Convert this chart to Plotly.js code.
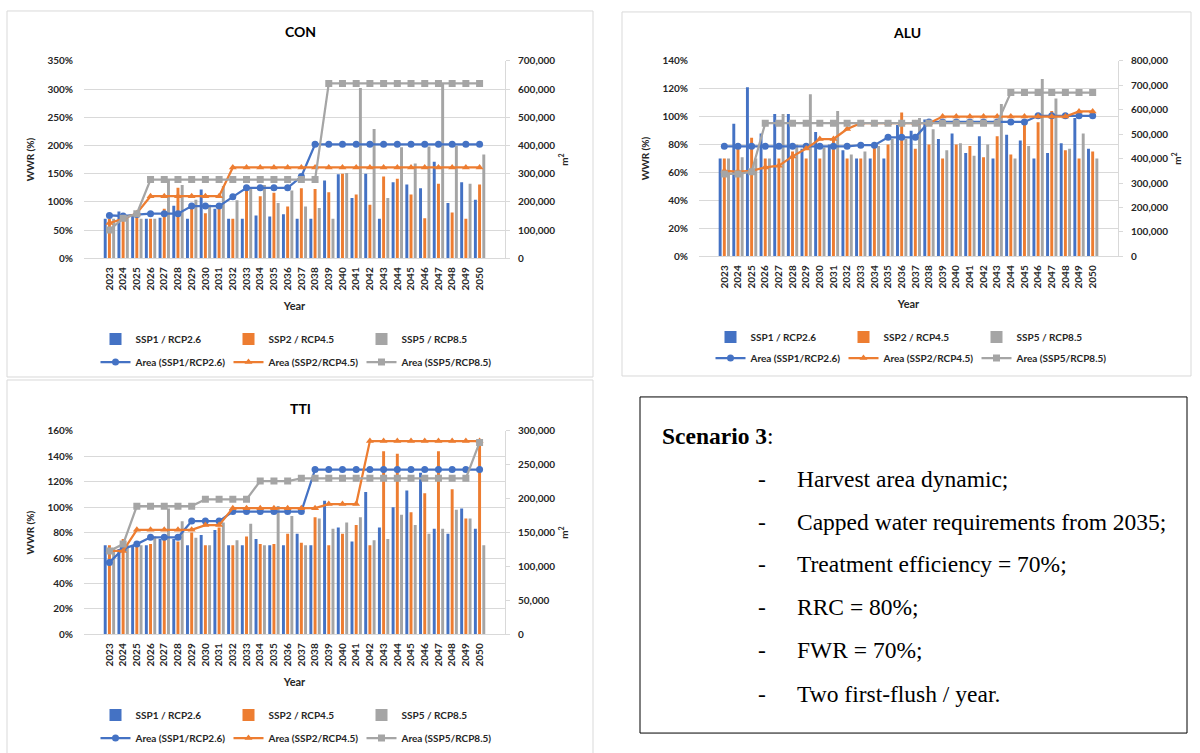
<!DOCTYPE html>
<html><head><meta charset="utf-8">
<script src="https://cdn.plot.ly/plotly-3.0.1.min.js"></script>
<style>html,body{margin:0;padding:0;background:#fff;}#chart{width:1200px;height:753px;}</style>
</head><body><div id="chart"></div>
<script>
const years = ['2023','2024','2025','2026','2027','2028','2029','2030','2031','2032','2033','2034','2035','2036','2037','2038','2039','2040','2041','2042','2043','2044','2045','2046','2047','2048','2049','2050'];
const barNames = ['SSP1 / RCP2.6','SSP2 / RCP4.5','SSP5 / RCP8.5'];
const lineNames = ['Area (SSP1/RCP2.6)','Area (SSP2/RCP4.5)','Area (SSP5/RCP8.5)'];

// CON — WWR (%) bars
const conSSP1 = [70,83,75,70,72,93,70,122,88,70,70,76,74,78,70,70,138,149,107,150,70,135,131,124,171,98,135,104];
const conSSP2 = [70,70,83,70,88,125,88,80,90,70,125,110,116,92,124,123,117,150,113,95,145,141,113,71,132,81,70,131];
const conSSP5 = [70,75,70,70,140,130,104,95,128,103,125,130,98,120,92,89,70,151,302,229,107,197,168,198,310,199,132,184];
// CON — area (m2)
const conArea1 = [152000,150000,155000,158000,158000,158000,185000,185000,185000,218000,250000,250000,250000,250000,290000,404000,404000,404000,404000,404000,404000,404000,404000,404000,404000,404000,404000,404000];
const conArea2 = [125000,140000,160000,220000,220000,220000,220000,220000,220000,322000,322000,322000,322000,322000,322000,322000,322000,322000,322000,322000,322000,322000,322000,322000,322000,322000,322000,322000];
const conArea5 = [100000,142000,158000,279000,279000,279000,279000,279000,279000,279000,279000,279000,279000,279000,279000,279000,620000,620000,620000,620000,620000,620000,620000,620000,620000,620000,620000,620000];

// ALU — WWR (%) bars
const aluSSP1 = [70,95,121,88,102,102,77,89,80,76,70,70,70,94,90,98,84,88,74,86,70,87,83,70,74,81,99,77];
const aluSSP2 = [70,78,85,70,70,75,70,70,84,70,70,80,80,103,77,80,70,80,79,71,86,73,96,96,104,76,70,75];
const aluSSP5 = [70,71,70,70,102,80,116,78,104,73,75,79,84,84,99,91,76,81,72,80,109,70,79,127,113,77,88,70];
// ALU — area (m2)
const aluArea1 = [450000,450000,450000,450000,450000,450000,450000,450000,450000,450000,455000,455000,487000,487000,487000,550000,550000,550000,550000,550000,550000,550000,550000,575000,575000,575000,575000,575000];
const aluArea2 = [350000,347000,350000,364000,371000,409000,441000,480000,480000,521000,545000,545000,545000,545000,545000,545000,572000,572000,572000,572000,572000,572000,572000,572000,572000,572000,593000,593000];
const aluArea5 = [337000,337000,346000,545000,545000,545000,545000,545000,545000,545000,545000,545000,545000,545000,545000,545000,545000,545000,545000,545000,545000,670000,670000,670000,670000,670000,670000,670000];

// TTI — WWR (%) bars
const ttiSSP1 = [70,67,70,70,75,75,70,78,82,70,70,75,70,70,79,70,105,84,73,112,84,100,113,127,83,79,99,83];
const ttiSSP2 = [70,75,70,71,75,73,80,70,84,70,77,71,71,79,72,92,70,79,86,70,144,142,96,111,144,114,91,152];
const ttiSSP5 = [68,70,70,77,99,89,76,70,88,74,87,70,101,93,70,91,83,88,92,74,75,94,86,79,83,98,91,70];
// TTI — area (m2)
const ttiArea1 = [106000,126000,133000,143000,143000,143000,167000,167000,167000,181000,181000,181000,181000,181000,181000,243000,243000,243000,243000,243000,243000,243000,243000,243000,243000,243000,243000,243000];
const ttiArea2 = [123000,123000,154000,154000,154000,154000,154000,161000,161000,186000,186000,186000,186000,186000,186000,186000,192000,192000,192000,285000,285000,285000,285000,285000,285000,285000,285000,285000];
const ttiArea5 = [123000,133000,189000,189000,189000,189000,189000,199000,199000,199000,199000,226000,226000,226000,230000,230000,230000,230000,230000,230000,230000,230000,230000,230000,230000,230000,230000,283000];

const colors = ['#4472C4','#ED7D31','#A5A5A5'];
const symbols = ['circle','triangle-up','square'];
const FONT = 'Lato, "Open Sans", sans-serif';
const TXT = '#262626';
const W = 1200, H = 753;
const fx = p => p / W, fy = p => 1 - p / H;

const traces = [];
function addChart(xa, ya, ya2, bars, areas, legB, legL) {
  bars.forEach((v, i) => traces.push({
    type: 'bar', x: years, y: v, name: barNames[i], xaxis: xa, yaxis: ya,
    marker: {color: colors[i]}, legend: legB, hoverinfo: 'x+y'
  }));
  areas.forEach((v, i) => traces.push({
    type: 'scatter', mode: 'lines+markers', x: years, y: v, name: lineNames[i],
    xaxis: xa, yaxis: ya2, line: {color: colors[i], width: 2.25},
    marker: {color: colors[i], symbol: symbols[i], size: 7}, legend: legL
  }));
}
addChart('x', 'y', 'y2', [conSSP1, conSSP2, conSSP5], [conArea1, conArea2, conArea5], 'legend', 'legend2');
addChart('x2', 'y3', 'y4', [aluSSP1, aluSSP2, aluSSP5], [aluArea1, aluArea2, aluArea5], 'legend3', 'legend4');
addChart('x3', 'y5', 'y6', [ttiSSP1, ttiSSP2, ttiSSP5], [ttiArea1, ttiArea2, ttiArea5], 'legend5', 'legend6');

const tickF = {family: FONT, size: 10, color: TXT, weight: 'bold'};
function xAx(x0, x1, yname) {
  return {domain: [fx(x0), fx(x1)], anchor: yname, type: 'category', tickangle: -90,
    tickfont: tickF, showline: true, linecolor: '#d9d9d9', linewidth: 1, ticks: '',
    showgrid: false, ticklabelstandoff: 4,
    title: {text: '<b>Year</b>', font: {family: FONT, size: 11, color: TXT}, standoff: 12}};
}
function yAx(y0, y1, xname, max, dt) {
  return {domain: [fy(y1), fy(y0)], anchor: xname, range: [0, max], dtick: dt, ticksuffix: '%',
    tickfont: tickF, showgrid: true, gridcolor: '#d9d9d9', zeroline: false, showline: false,
    ticks: '', ticklabelstandoff: 10, fixedrange: true,
    title: {text: '<b>WWR (%)</b>', font: {family: FONT, size: 10, color: TXT}, standoff: 10}};
}
function y2Ax(over, xname, max, dt) {
  return {overlaying: over, anchor: xname, side: 'right', range: [0, max], dtick: dt,
    tickformat: ',d', tickfont: tickF, showgrid: false, zeroline: false, showline: true,
    linecolor: '#d9d9d9', ticks: 'outside', ticklen: 4, tickcolor: '#d9d9d9', ticklabelstandoff: 6,
    title: {text: '<b>m<sup>2</sup></b>', font: {family: FONT, size: 10, color: TXT}, standoff: 6}};
}
function leg(xc, yc) {
  return {orientation: 'h', x: fx(xc), xanchor: 'center', y: fy(yc), yanchor: 'middle',
    font: {family: FONT, size: 10, color: TXT, weight: 'bold'}, bgcolor: 'rgba(0,0,0,0)',
    entrywidth: 88, entrywidthmode: 'pixels', traceorder: 'normal', itemclick: false};
}

const serif = '"Liberation Serif", "DejaVu Serif", serif';
const boxLines = ['Harvest area dynamic;', 'Capped water requirements from 2035;', 'Treatment efficiency = 70%;', 'RRC = 80%;', 'FWR = 70%;', 'Two first-flush / year.'];
const boxY = [480, 523, 566, 609, 652, 696];
const BOXF = 23.5;

function ann(text, x, y, xa, font) {
  return {text: text, x: fx(x), y: fy(y), xref: 'paper', yref: 'paper', xanchor: xa, yanchor: 'middle', showarrow: false, font: font};
}
const titleF = {family: FONT, size: 14, color: '#000'};
const annotations = [
  ann('<b>CON</b>', 300, 32, 'center', titleF),
  ann('<b>ALU</b>', 907, 33, 'center', titleF),
  ann('<b>TTI</b>', 300, 410, 'center', titleF),
  ann('<b>Scenario 3</b>:', 660, 437, 'left', {family: serif, size: BOXF, color: '#000'})
];
boxLines.forEach((t, i) => {
  annotations.push(ann('-', 762, boxY[i], 'center', {family: serif, size: BOXF, color: '#000'}));
  annotations.push(ann(t, 795, boxY[i], 'left', {family: serif, size: BOXF, color: '#000'}));
});

function rect(x0, y0, x1, y1, c) {
  return {type: 'rect', xref: 'paper', yref: 'paper', x0: fx(x0), x1: fx(x1), y0: fy(y1), y1: fy(y0), line: {color: c, width: 1}, fillcolor: 'rgba(0,0,0,0)', layer: 'below'};
}

const layout = {
  width: W, height: H, margin: {l: 0, r: 0, t: 0, b: 0}, paper_bgcolor: '#fff', plot_bgcolor: 'rgba(0,0,0,0)',
  barmode: 'group', bargap: 0.08, bargroupgap: 0.3, font: {family: FONT, color: TXT},
  xaxis: xAx(84, 505, 'y'), yaxis: yAx(61, 259, 'x', 350, 50), yaxis2: y2Ax('y', 'x', 700000, 100000),
  xaxis2: xAx(699, 1118, 'y3'), yaxis3: yAx(61, 257, 'x2', 140, 20), yaxis4: y2Ax('y3', 'x2', 800000, 100000),
  xaxis3: xAx(84, 505, 'y5'), yaxis5: yAx(432, 636, 'x3', 160, 20), yaxis6: y2Ax('y5', 'x3', 300000, 50000),
  legend: leg(295, 340), legend2: leg(295, 363),
  legend3: leg(910, 338), legend4: leg(910, 359),
  legend5: leg(295, 717), legend6: leg(295, 740),
  annotations: annotations,
  shapes: [rect(7, 11, 593, 378, '#d9d9d9'), rect(622, 12, 1191, 377, '#d9d9d9'), rect(7, 381, 593, 760, '#d9d9d9'), rect(640, 398, 1187, 735, '#000')]
};
Plotly.newPlot('chart', traces, layout, {staticPlot: true, displayModeBar: false});
</script></body></html>
